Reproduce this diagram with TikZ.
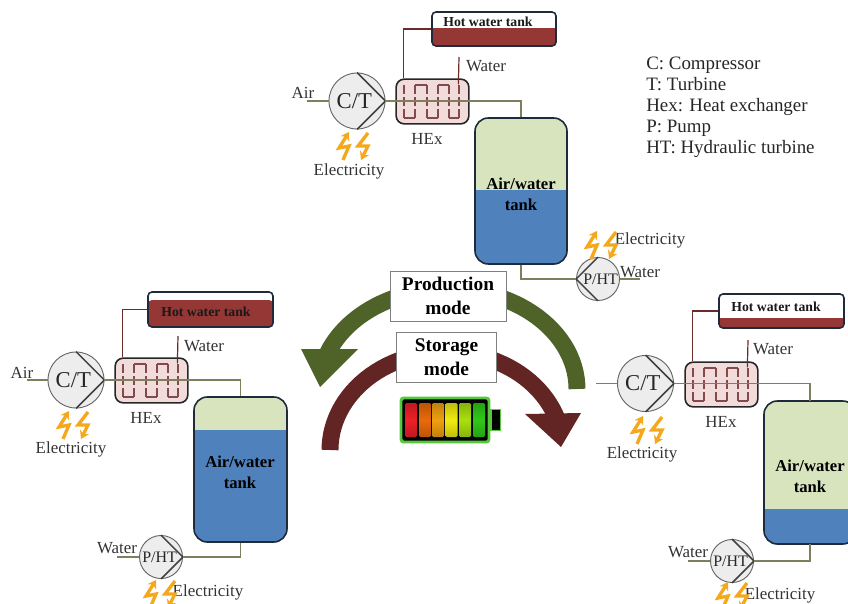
\documentclass[tikz,border=0pt]{standalone}
\usepackage{fontspec}
\setmainfont{Liberation Serif}
\usetikzlibrary{calc,arrows.meta}
\definecolor{pipe}{HTML}{7F7F5F}
\definecolor{hotline}{HTML}{6B2B2B}
\definecolor{hotfill}{HTML}{953735}
\definecolor{tankgreen}{HTML}{D7E4BD}
\definecolor{tankblue}{HTML}{4F81BD}
\definecolor{tankedge}{HTML}{1F2A3A}
\definecolor{hexfill}{HTML}{F2DCDB}
\definecolor{arrowgreen}{HTML}{4F6228}
\definecolor{arrowred}{HTML}{632523}
\definecolor{bolt}{HTML}{F5A81C}
\definecolor{battgreen}{HTML}{55C83C}
\tikzset{
  x=0.75pt,y=-0.75pt,
  lbl/.style={font=\fontsize{12.7}{14}\selectfont,inner sep=0pt,text=black!80},
  leg/.style={font=\fontsize{14.2}{16}\selectfont,inner sep=0pt,text=black!85,anchor=base west},
  hotlbl/.style={font=\fontsize{10.3}{12}\selectfont\bfseries,inner sep=0pt,text=black!90},
  pipeline/.style={draw=pipe,line width=1.3pt},
  hotpipe/.style={draw=hotline,line width=0.9pt},
  machine/.style={circle,draw=black!60,fill=black!7,line width=0.7pt,inner sep=0pt},
  chevron/.style={draw=black!75,line width=1.1pt},
  hexbox/.style={draw=black!85,fill=hexfill,rounded corners=6pt,line width=1.2pt,inner sep=0pt},
  coil/.style={draw=hotline!85,line width=0.8pt},
  coilv/.style={coil,dash pattern=on 7pt off 2pt},
  bold16/.style={font=\fontsize{12.5}{15.5}\selectfont\bfseries,align=center,inner sep=0pt},
  modebox/.style={draw=black!50,fill=white,line width=0.7pt,inner sep=0pt,font=\fontsize{14.5}{18}\selectfont\bfseries,align=center},
  boltline/.style={draw=bolt,line width=2.5pt,line join=miter},
  modearc/.style={line width=12.7pt},
}
% name, x1,y1,x2,y2, level, fill top, options of bottom fill, radius
\newcommand{\TwoTone}[9]{%
  \node[draw=tankedge,line width=1.2pt,rounded corners=#9pt,inner sep=0pt,fill=#7,
    minimum width={(#4-#2)*0.75pt},minimum height={(#5-#3)*0.75pt},
    path picture={\fill[#8] (path picture bounding box.south west) rectangle
      ([yshift={(#5-#6)*0.75pt}]path picture bounding box.south east);}]
    (#1) at ({(#2+#4)/2},{(#3+#5)/2}) {};}
% name,x,y,radius(px),label font size,label,label shift (pt),pointing side
\newcommand{\Machine}[8]{%
  \node[machine,minimum size={2*#4*0.75pt}] (#1) at (#2,#3) {};
  \draw[chevron] (#1.north) -- (#1.#8) -- (#1.south);
  \node[inner sep=0pt,font=\fontsize{#5}{#5}\selectfont,text=black!85] at ([xshift=#7pt]#1.center) {#6};}
% name,x1,y1 : heat exchanger
\newcommand{\HEx}[3]{%
  \node[hexbox,minimum width=54.5pt,minimum height=33.5pt] (#1) at ({#2+36.5},{#3+22.5}) {};
  \begin{scope}[shift={(#2,#3)}]
    \foreach \vx in {8,19,31,42,53,63}{\draw[coilv] (\vx,6) -- (\vx,39);}
    \draw[coil] (8,39) -- (19,39) (19,6) -- (31,6) (31,39) -- (42,39) (42,6) -- (53,6) (53,39) -- (63,39);
  \end{scope}}
% centre x,y of a pair of bolts
\newcommand{\Bolts}[2]{%
  \begin{scope}[shift={(#1,#2)}]
    \draw[boltline,-{Stealth[length=6pt,width=7.5pt]}] (-9,14) -- (-3,0) -- (-13,2) -- (-3,-14);
    \draw[boltline,-{Stealth[length=6pt,width=7.5pt]}] (16,-13) -- (6,0) -- (16,0) -- (9,14);
  \end{scope}}
\begin{document}
\begin{tikzpicture}
\clip (0,0) rectangle (848,603);
\useasboundingbox (0,0) rectangle (848,603);

% ---- central arcs
\draw[modearc,arrowgreen] plot[domain=0:160,samples=50] ({448+129*cos(\x)},{389-100*sin(\x)});
\fill[arrowgreen] (301,349) -- (358,349) -- (320,387) -- cycle;
\draw[modearc,arrowred] plot[domain=180:18,samples=50] ({446.5+116.5*cos(\x)},{450-98*sin(\x)});
\fill[arrowred] (525,414) -- (581,413) -- (561,447) -- cycle;
\node[modebox,minimum width=87pt,minimum height=37.5pt] (prod) at (448,296) {Production\\mode};
\node[modebox,minimum width=75.5pt,minimum height=37.5pt] (stor) at (446.5,357) {Storage\\mode};

% ---- battery
\node[draw=battgreen,fill=black,line width=2.2pt,rounded corners=2pt,minimum width=66pt,minimum height=33pt,inner sep=0pt] (batt) at (445,420) {};
\node[draw=battgreen,fill=black,line width=1pt,minimum width=7pt,minimum height=15.5pt,inner sep=0pt,anchor=west] (battcap) at (batt.east) {};
\foreach \cx/\cc in {411/EE2028,425/E86A0A,438/F0A010,451.5/F0EC10,465/A8E010,479/30C818}{
  \definecolor{cell}{HTML}{\cc}
  \fill[rounded corners=1pt,top color=cell!80!black,bottom color=cell!80!black,middle color=cell] (\cx-6,403) rectangle (\cx+6,437);
}

% ---- legend
\node[leg] (leg1) at (646,69) {C: Compressor};
\node[leg] (leg2) at (646,90) {T: Turbine};
\node[leg] (leg3) at (646,111) {Hex: Heat exchanger};
\node[leg] (leg4) at (646,132) {P: Pump};
\node[leg] (leg5) at (646,153) {HT: Hydraulic turbine};

% ---- top cluster
\coordinate (aA) at (307,101);
\coordinate (wA) at (459,57);
\coordinate (wpA) at (640,279);
\TwoTone{hotA}{432}{12}{556}{46}{28}{white}{hotfill,sharp corners}{3}
\TwoTone{tankA}{475}{118}{567}{264}{190}{tankgreen}{tankblue,sharp corners}{10}
\HEx{hexA}{396}{79}
\Machine{ctA}{357}{101}{28}{17}{C/T}{-2}{east}
\Machine{phA}{598}{279}{21.5}{12}{P/HT}{2}{west}
\draw[pipeline] (aA) -- (ctA.west);
\draw[pipeline] (ctA.east) -| (tankA.north);
\draw[pipeline] (tankA.south) |- (phA.west);
\draw[pipeline] (phA.east) -- (wpA);
\draw[hotpipe] (hotA.west) -| ($(hexA.north west)+(8,0)$);
\draw[hotpipe] (wA) -- ($(hexA.north west)+(63,6)$);
\node[hotlbl] at (488,22) {Hot water tank};
\node[bold16] at (521,194) {Air/water\\tank};
\node[lbl] at (303,93) {Air};
\node[lbl] at (486,66) {Water};
\node[lbl] at (427,139) {HEx};
\node[lbl] at (349,171) {Electricity};
\node[lbl] at (650,240) {Electricity};
\node[lbl] at (640,272) {Water};
\Bolts{352}{146}
\Bolts{600}{245}

% ---- left cluster
\coordinate (aB) at (27,380);
\coordinate (wB) at (178,336);
\coordinate (wpB) at (117,557);
\TwoTone{hotB}{148}{292}{273}{327}{300}{white}{hotfill}{3}
\TwoTone{tankB}{194}{397}{287}{542}{430}{tankgreen}{tankblue,sharp corners}{10}
\HEx{hexB}{115}{358}
\Machine{ctB}{76}{380}{28}{17}{C/T}{-2}{east}
\Machine{phB}{161}{557}{21.5}{12}{P/HT}{-1}{east}
\draw[pipeline] (aB) -- (ctB.west);
\draw[pipeline] (ctB.east) -| (tankB.north);
\draw[pipeline] (tankB.south) |- (phB.east);
\draw[pipeline] (wpB) -- (phB.west);
\draw[hotpipe] (hotB.west) -| ($(hexB.north west)+(8,0)$);
\draw[hotpipe] (wB) -- ($(hexB.north west)+(63,6)$);
\node[hotlbl] at (206,312) {Hot water tank};
\node[bold16] at (240,472) {Air/water\\tank};
\node[lbl] at (22,373) {Air};
\node[lbl] at (204,346) {Water};
\node[lbl] at (146,418) {HEx};
\node[lbl] at (71,449) {Electricity};
\node[lbl] at (117,548) {Water};
\node[lbl] at (208,592) {Electricity};
\Bolts{72}{425}
\Bolts{159}{594}

% ---- right cluster
\coordinate (aC) at (596,383.5);
\coordinate (wC) at (748,340);
\coordinate (wpC) at (688,561);
\coordinate (tankCtop) at (810,401);
\coordinate (tankCbot) at (810,544);
\TwoTone{hotC}{719}{294}{844}{328}{318}{white}{hotfill,sharp corners}{3}
\TwoTone{tankC}{764}{401}{856}{544}{509}{tankgreen}{tankblue,sharp corners}{10}
\HEx{hexC}{685}{362}
\Machine{ctC}{645.5}{383.5}{28}{17}{C/T}{-2}{east}
\Machine{phC}{732}{561}{21.5}{12}{P/HT}{-1}{east}
\draw[pipeline] (aC) -- (ctC.west);
\draw[pipeline] (ctC.east) -| (tankCtop);
\draw[pipeline] (tankCbot) |- (phC.east);
\draw[pipeline] (wpC) -- (phC.west);
\draw[hotpipe] (hotC.west) -| ($(hexC.north west)+(8,0)$);
\draw[hotpipe] (wC) -- ($(hexC.north west)+(63,6)$);
\node[hotlbl] at (776,307) {Hot water tank};
\node[bold16] at (810,476) {Air/water\\tank};
\node[lbl] at (773,349) {Water};
\node[lbl] at (721,422) {HEx};
\node[lbl] at (642,454) {Electricity};
\node[lbl] at (688,552) {Water};
\node[lbl] at (780,595) {Electricity};
\Bolts{646}{430}
\Bolts{731}{596}
\end{tikzpicture}
\end{document}
